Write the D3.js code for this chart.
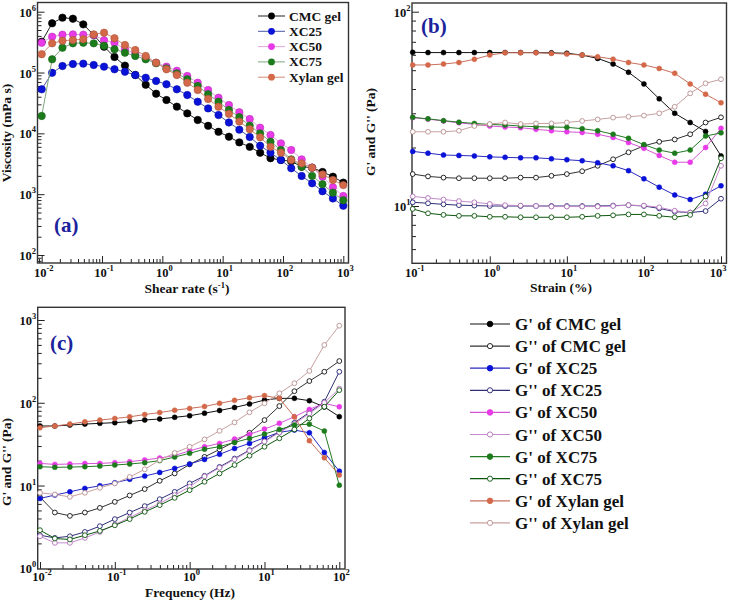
<!DOCTYPE html>
<html><head><meta charset="utf-8">
<script src="https://cdn.jsdelivr.net/npm/d3@7"></script>
<style>
body{margin:0;background:#fff}
svg{display:block}
text{font-family:"Liberation Serif","Times New Roman",Times,serif;font-weight:bold;fill:#111}
</style>
</head><body>
<svg id="chart" width="729" height="601"></svg>
<script>
// ---------- DATA ----------
const samples = ["CMC gel", "XC25", "XC50", "XC75", "Xylan gel"];

// (a) viscosity vs shear rate
const shearRate = [0.01, 0.0149, 0.0221, 0.0329, 0.0489, 0.0728, 0.108, 0.161, 0.240, 0.356, 0.530, 0.788, 1.17, 1.74, 2.59, 3.86, 5.74, 8.53, 12.7, 18.9, 28.1, 41.8, 62.1, 92.4, 137, 204, 304, 452, 672, 1000];
const viscCMC   = [321000, 644000, 798000, 767000, 619000, 414000, 266000, 180000, 130000, 91000, 63000, 44900, 35300, 27500, 21300, 16600, 13300, 10600, 8800, 7100, 6000, 4800, 3900, 3650, 3470, 2830, 2730, 2320, 1940, 1550];
const viscXC25  = [53000, 99000, 128000, 138000, 140000, 133000, 125000, 113000, 103000, 91000, 82000, 72600, 64000, 53000, 42700, 33100, 25700, 20000, 15100, 11500, 8700, 6270, 4810, 3650, 2670, 1990, 1510, 1120, 851, 646];
const viscXC50  = [309000, 388000, 419000, 424000, 419000, 413000, 339000, 309000, 241000, 207000, 175000, 145000, 125000, 107000, 87700, 68100, 51600, 38500, 29200, 22200, 17200, 12400, 9400, 6850, 5330, 3740, 2730, 1940, 1300, 933];
const viscXC75  = [19300, 165000, 256000, 302000, 309000, 302000, 276000, 241000, 212000, 187000, 165000, 142000, 117000, 97000, 77400, 60100, 43900, 33100, 24200, 18400, 13400, 10000, 7300, 5330, 3740, 2830, 2000, 1460, 1060, 794];
const viscXylan = [200000, 302000, 333000, 342000, 352000, 424000, 452000, 366000, 284000, 234000, 187000, 145000, 113000, 91000, 68000, 51600, 36700, 27400, 20900, 15600, 11700, 8600, 6000, 4800, 3650, 3210, 2730, 2120, 1710, 1410];

// (b) G', G'' vs strain
const strain = [0.1, 0.158, 0.251, 0.398, 0.631, 1, 1.58, 2.51, 3.98, 6.31, 10, 15.8, 25.1, 39.8, 63.1, 100, 158, 251, 398, 631, 1000];
const bGpCMC    = [61.8, 61.6, 61.6, 61.6, 61.6, 61.6, 61.6, 61.6, 61.6, 61.4, 61.1, 59.8, 57.5, 53.8, 48.8, 42.5, 35.6, 30.0, 26.9, 24.2, 18.1];
const bGppCMC   = [14.6, 14.2, 14.0, 13.9, 13.9, 13.9, 13.9, 14.0, 14.0, 14.3, 14.6, 15.1, 16.1, 17.4, 18.9, 20.4, 21.4, 22.0, 23.4, 26.9, 28.6];
const bGpXC25   = [19.1, 18.7, 18.3, 18.2, 18.1, 17.9, 17.8, 17.7, 17.7, 17.5, 17.3, 17.1, 16.7, 16.1, 15.2, 13.8, 12.5, 11.4, 10.8, 11.5, 12.7];
const bGppXC25  = [10.45, 10.33, 10.2, 10.1, 10.05, 10.0, 10.0, 10.0, 10.0, 10.0, 10.0, 10.0, 10.0, 10.05, 10.1, 10.0, 9.72, 9.35, 9.25, 9.42, 10.9];
const bGpXC50   = [28.5, 28.0, 27.4, 26.8, 26.3, 25.8, 25.5, 25.3, 24.8, 24.4, 24.1, 23.9, 23.4, 22.5, 21.2, 19.8, 18.2, 16.8, 16.8, 20.0, 25.1];
const bGppXC50  = [11.2, 11.0, 10.8, 10.6, 10.45, 10.25, 10.1, 10.05, 10.0, 9.93, 9.93, 9.93, 9.93, 10.0, 10.1, 10.05, 9.85, 9.46, 9.25, 10.3, 16.1];
const bGpXC75   = [28.6, 28.1, 27.5, 27.0, 26.6, 26.3, 26.1, 25.8, 25.6, 25.5, 25.4, 25.0, 24.4, 23.4, 22.3, 20.7, 19.4, 18.7, 19.4, 22.9, 23.8];
const bGppXC75  = [9.66, 9.17, 9.0, 8.9, 8.9, 8.8, 8.8, 8.75, 8.75, 8.75, 8.75, 8.8, 8.9, 8.95, 9.05, 9.05, 8.9, 8.75, 9.0, 11.2, 17.6];
const bGpXylan  = [53.2, 53.2, 53.8, 54.8, 56.9, 59.8, 61.5, 61.5, 61.5, 61.0, 60.5, 59.8, 58.6, 57.0, 54.8, 53.2, 51.0, 48.2, 42.5, 37.6, 34.0];
const bGppXylan = [24.1, 24.1, 24.1, 24.4, 25.8, 26.4, 26.9, 26.4, 26.6, 26.6, 26.9, 27.4, 27.9, 28.5, 28.8, 29.2, 30.0, 32.4, 38.0, 42.8, 44.9];

// (c) G', G'' vs frequency
const freq = [0.01, 0.0158, 0.0251, 0.0398, 0.0631, 0.1, 0.158, 0.251, 0.398, 0.631, 1, 1.58, 2.51, 3.98, 6.31, 10, 15.8, 25.1, 39.8, 63.1, 100];
const cGpCMC    = [52.4, 52.4, 53.8, 55.3, 56.4, 57.5, 59.2, 61.9, 63.7, 66.7, 69.8, 74.8, 80.7, 87.7, 96.6, 108, 113, 113, 106, 89, 68];
const cGppCMC   = [7.24, 4.72, 4.30, 4.72, 5.37, 6.35, 7.59, 9.06, 11.4, 14.0, 18.0, 22.2, 27.3, 33.7, 43.4, 61.8, 91.2, 138, 183, 237, 319];
const cGpXC25   = [6.98, 7.67, 8.39, 9.23, 9.93, 10.8, 11.9, 13.0, 14.4, 16.1, 18.2, 20.7, 23.8, 28.1, 32.3, 37.8, 43.9, 46.8, 43.4, 25.1, 14.9];
const cGppXC25  = [2.51, 2.33, 2.44, 2.75, 3.23, 3.93, 4.72, 5.64, 6.84, 8.39, 10.6, 13.1, 16.8, 21.2, 26.8, 34.4, 44.7, 57.3, 76.6, 103, 237];
const cGpXC50   = [18.5, 18.0, 18.2, 18.4, 18.5, 18.9, 19.4, 20.4, 21.5, 23.0, 26.3, 29.4, 32.3, 36.4, 41.5, 48.1, 56.4, 67.8, 83.2, 98.4, 89.5];
const cGppXC50  = [2.44, 2.03, 2.03, 2.33, 2.75, 3.38, 4.11, 5.04, 6.07, 7.66, 9.66, 12.9, 16.4, 20.7, 26.3, 33.9, 43.7, 55.6, 74.1, 100, 148];
const cGpXC75   = [16.9, 16.6, 16.7, 16.9, 17.2, 17.7, 18.2, 18.9, 20.0, 22.1, 24.5, 27.5, 29.5, 33.2, 37.1, 41.9, 47.6, 53.7, 55.2, 45.5, 10.1];
const cGppXC75  = [2.89, 2.29, 2.23, 2.51, 2.83, 3.31, 3.93, 4.81, 5.79, 7.10, 8.79, 11.1, 14.0, 17.7, 22.9, 29.4, 37.2, 47.6, 64.7, 89.5, 142];
const cGpXylan  = [50, 52.4, 55.3, 58.9, 61.7, 64.6, 67.6, 72.1, 76.2, 81.3, 85.5, 90.2, 98.4, 107, 115, 122, 113, 67.6, 34.8, 21.6, 13.4];
const cGppXylan = [8.17, 7.80, 7.29, 8.17, 9.38, 10.6, 12.7, 15.7, 20.3, 24.8, 29.4, 36.1, 45.8, 57.9, 76.7, 98.4, 130, 172, 242, 499, 853];

// tick label exponents
const aXExp = [-2, -1, 0, 1, 2, 3], aYExp = [2, 3, 4, 5, 6];
const bXExp = [-1, 0, 1, 2, 3], bYExp = [1, 2];
const cXExp = [-2, -1, 0, 1, 2], cYExp = [0, 1, 2, 3];

// ---------- STYLES ----------
const markColor = ["#000000", "#0a12d8", "#e83ae8", "#1c7c1c", "#d4694a"];
const aLineColor = ["#222222", "#4a58a8", "#e0a6e0", "#7fa67f", "#d08a74"];
const gpLine  = ["#111111", "#2a2ac0", "#d454d4", "#247a24", "#c8705c"];
const gppLine = ["#333333", "#303078", "#c48ccc", "#0c560c", "#c8a0a0"];
const gppStroke = ["#111111", "#202070", "#b070b8", "#0c560c", "#b89090"];
const labelBlue = "#1c229c";

const svg = d3.select("#chart");

function addSup(t, base, sup, supSize) {
  t.append("tspan").text(base);
  t.append("tspan").attr("dy", -6).attr("font-size", supSize).text(sup);
}

function drawPanel(p) {
  const x = d3.scaleLog().domain(p.xd).range(p.xr);
  const y = d3.scaleLog().domain(p.yd).range(p.yr);
  const [L, R, T, B] = p.frame;
  const g = svg.append("g");
  const gen = (sc, lo, hi, major) => {
    const out = [];
    const a = Math.floor(Math.log10(Math.min(sc.invert(lo), sc.invert(hi))));
    const b = Math.ceil(Math.log10(Math.max(sc.invert(lo), sc.invert(hi))));
    for (let e = a; e <= b; e++) for (let m = 1; m <= 9; m++) {
      const v = m * Math.pow(10, e), px = sc(v);
      if (px < Math.min(lo, hi) + 0.8 || px > Math.max(lo, hi) - 0.8) continue;
      if ((m === 1) === major) out.push(v);
    }
    return out;
  };
  [[false, 4], [true, 7]].forEach(([maj, len]) => {
    g.append("g").attr("transform", `translate(0,${B})`)
      .call(d3.axisBottom(x).tickValues(gen(x, L, R, maj)).tickSizeInner(-len).tickSizeOuter(0).tickFormat(""))
      .call(s => { s.select(".domain").remove(); s.selectAll("line").attr("stroke", "#222").attr("stroke-width", 1); });
    g.append("g").attr("transform", `translate(${L},0)`)
      .call(d3.axisLeft(y).tickValues(gen(y, B, T, maj)).tickSizeInner(-len).tickSizeOuter(0).tickFormat(""))
      .call(s => { s.select(".domain").remove(); s.selectAll("line").attr("stroke", "#222").attr("stroke-width", 1); });
  });
  g.append("rect").attr("x", L).attr("y", T).attr("width", R - L).attr("height", B - T)
    .attr("fill", "none").attr("stroke", "#333").attr("stroke-width", 1.4);
  p.xExp.forEach(e => {
    const cx = Math.min(x(Math.pow(10, e)) + 2, p.xLabMax || 1e9);
    const t = g.append("text").attr("x", cx).attr("y", B + p.xLabDy)
      .attr("text-anchor", "middle").attr("font-size", 12.5);
    addSup(t, "10", String(e), 8.5);
  });
  p.yExp.forEach(e => {
    const t = g.append("text").attr("x", L - 1.5).attr("y", y(Math.pow(10, e)) + 5)
      .attr("text-anchor", "end").attr("font-size", 12.5);
    addSup(t, "10", String(e), 8.5);
  });
  return { x, y, g };
}

function drawSeries(P, xs, ys, st) {
  const pts = xs.map((v, i) => [v, ys[i]]);
  P.g.append("path").datum(pts)
    .attr("d", d3.line().x(d => P.x(d[0])).y(d => P.y(d[1])))
    .attr("fill", "none").attr("stroke", st.line).attr("stroke-width", st.lw || 1);
  P.g.selectAll(null).data(pts).enter().append("circle")
    .attr("cx", d => P.x(d[0])).attr("cy", d => P.y(d[1])).attr("r", st.r)
    .attr("fill", st.fill).attr("stroke", st.stroke).attr("stroke-width", st.sw);
}

// ---------- PANEL (a) ----------
const A = drawPanel({ frame: [37.5, 348.5, 2.5, 263], xd: [0.01, 1000], xr: [41.7, 343.3],
  yd: [100, 1e6], yr: [255, 11.7], xExp: aXExp, yExp: aYExp, xLabDy: 14 });
const viscSeries = [viscCMC, viscXC25, viscXC50, viscXC75, viscXylan];
viscSeries.forEach((vs, i) => drawSeries(A, shearRate, vs,
  { line: aLineColor[i], r: 3.7, fill: markColor[i], stroke: d3.color(markColor[i]).darker(0.6), sw: 0.6 }));
samples.forEach((s, i) => {
  const yy = 16 + i * 15.3;
  A.g.append("line").attr("x1", 258).attr("x2", 285).attr("y1", yy).attr("y2", yy).attr("stroke", aLineColor[i]).attr("stroke-width", 1);
  A.g.append("circle").attr("cx", 271.5).attr("cy", yy).attr("r", 3.4).attr("fill", markColor[i]);
  A.g.append("text").attr("x", 289).attr("y", yy + 4.5).attr("font-size", 13.5).text(s);
});
A.g.append("text").attr("x", 54).attr("y", 232).attr("font-size", 21).style("fill", labelBlue).text("(a)");
{
  const t = A.g.append("text").attr("x", 187).attr("y", 292.5).attr("text-anchor", "middle").attr("font-size", 13.5);
  t.append("tspan").text("Shear rate (s");
  t.append("tspan").attr("dy", -4.5).attr("font-size", 8.5).text("-1");
  t.append("tspan").attr("dy", 4.5).text(")");
}
A.g.append("text").attr("transform", "translate(11,133) rotate(-90)").attr("text-anchor", "middle")
  .attr("font-size", 13.5).text("Viscosity (mPa s)");

// ---------- PANEL (b) ----------
const Bp = drawPanel({ frame: [412, 726.5, 3, 263.3], xd: [0.1, 1000], xr: [412.7, 721],
  yd: [10, 100], yr: [206, 11.7], xExp: bXExp, yExp: bYExp, xLabDy: 14, xLabMax: 718 });
const bGp = [bGpCMC, bGpXC25, bGpXC50, bGpXC75, bGpXylan];
const bGpp = [bGppCMC, bGppXC25, bGppXC50, bGppXC75, bGppXylan];
samples.forEach((s, i) => {
  drawSeries(Bp, strain, bGp[i], { line: gpLine[i], r: 2.5, fill: markColor[i], stroke: markColor[i], sw: 0.5 });
  drawSeries(Bp, strain, bGpp[i], { line: gppLine[i], r: 2.4, fill: "#fff", stroke: gppStroke[i], sw: 0.9 });
});
Bp.g.append("text").attr("x", 421).attr("y", 33).attr("font-size", 21).style("fill", labelBlue).text("(b)");
Bp.g.append("text").attr("x", 561).attr("y", 292).attr("text-anchor", "middle").attr("font-size", 13.5).text("Strain (%)");
Bp.g.append("text").attr("transform", "translate(375,132) rotate(-90)").attr("text-anchor", "middle")
  .attr("font-size", 13.5).text("G' and G'' (Pa)");

// ---------- PANEL (c) ----------
const C = drawPanel({ frame: [37.7, 345, 307.3, 569], xd: [0.01, 100], xr: [40, 339.3],
  yd: [1, 1000], yr: [568.3, 320], xExp: cXExp, yExp: cYExp, xLabDy: 12 });
const cGp = [cGpCMC, cGpXC25, cGpXC50, cGpXC75, cGpXylan];
const cGpp = [cGppCMC, cGppXC25, cGppXC50, cGppXC75, cGppXylan];
samples.forEach((s, i) => {
  drawSeries(C, freq, cGp[i], { line: gpLine[i], r: 2.5, fill: markColor[i], stroke: markColor[i], sw: 0.5 });
  drawSeries(C, freq, cGpp[i], { line: gppLine[i], r: 2.4, fill: "#fff", stroke: gppStroke[i], sw: 0.9 });
});
C.g.append("text").attr("x", 50).attr("y", 350).attr("font-size", 21).style("fill", labelBlue).text("(c)");
C.g.append("text").attr("x", 190).attr("y", 597).attr("text-anchor", "middle").attr("font-size", 13.5).text("Frequency (Hz)");
C.g.append("text").attr("transform", "translate(11,462) rotate(-90)").attr("text-anchor", "middle")
  .attr("font-size", 13.5).text("G' and G'' (Pa)");

// ---------- shared legend ----------
const legG = svg.append("g");
samples.forEach((s, i) => {
  [0, 1].forEach(k => {
    const yy = 324 + (i * 2 + k) * 22.1;
    legG.append("line").attr("x1", 470).attr("x2", 510).attr("y1", yy).attr("y2", yy)
      .attr("stroke", k === 0 ? gpLine[i] : gppLine[i]).attr("stroke-width", 1.2);
    legG.append("circle").attr("cx", 490).attr("cy", yy).attr("r", k === 0 ? 2.8 : 2.6)
      .attr("fill", k === 0 ? markColor[i] : "#fff").attr("stroke", k === 0 ? markColor[i] : gppStroke[i]).attr("stroke-width", 0.9);
    legG.append("text").attr("x", 515).attr("y", yy + 6).attr("font-size", 17)
      .text((k === 0 ? "G' of " : "G'' of ") + s);
  });
});
</script>
</body></html>
